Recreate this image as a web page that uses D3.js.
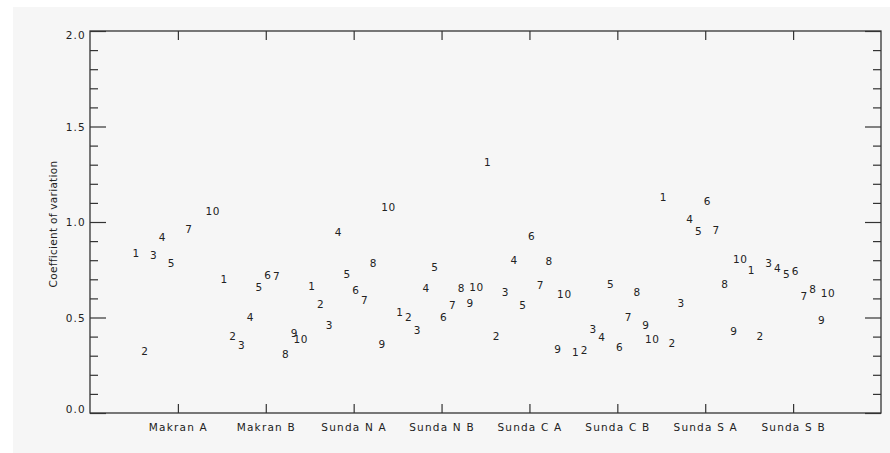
<!DOCTYPE html>
<html>
<head>
<meta charset="utf-8">
<script src="https://cdn.jsdelivr.net/npm/d3@7"></script>
<style>
  html, body { margin: 0; padding: 0; background: #ffffff; }
  svg { display: block; }
  text { font-family: "DejaVu Sans", sans-serif; fill: #222; }
</style>
</head>
<body>
<svg id="chart" width="890" height="453"></svg>
<script>
// ---- data ----
const categories = ["Makran A", "Makran B", "Sunda N A", "Sunda N B", "Sunda C A", "Sunda C B", "Sunda S A", "Sunda S B"];
const labels = ["1", "2", "3", "4", "5", "6", "7", "8", "9", "10"];
const makranA = [0.838, 0.323, 0.825, 0.919, 0.785, null, 0.963, null, null, 1.055];
const makranB = [0.702, 0.402, 0.353, 0.501, 0.658, 0.723, 0.715, 0.306, 0.419, 0.388];
const sundaNA = [0.663, 0.567, 0.459, 0.945, 0.728, 0.642, 0.588, 0.785, 0.358, 1.076];
const sundaNB = [0.527, 0.503, 0.433, 0.651, 0.762, 0.503, 0.562, 0.655, 0.573, 0.659];
const sundaCA = [1.313, 0.402, 0.632, 0.799, 0.564, 0.924, 0.668, 0.797, 0.336, 0.623];
const sundaCB = [0.320, 0.327, 0.440, 0.398, 0.676, 0.344, 0.503, 0.632, 0.458, 0.384];
const sundaSA = [1.128, 0.363, 0.576, 1.012, 0.951, 1.107, 0.959, 0.672, 0.428, 0.803];
const sundaSB = [0.750, 0.402, 0.782, 0.759, 0.729, 0.741, 0.611, 0.646, 0.484, 0.628];
const seriesValues = [makranA, makranB, sundaNA, sundaNB, sundaCA, sundaCB, sundaSA, sundaSB];
const yTickLabels = ["0.0", "0.5", "1.0", "1.5", "2.0"];
const yTicks = [0, 0.5, 1.0, 1.5, 2.0];
const yMinorTicks = d3.range(0, 21).map(d => d / 10).filter(d => !yTicks.some(t => Math.abs(t - d) < 1e-9));

// ---- layout ----
const svg = d3.select("#chart");
const L = 90, R = 881, T = 31, B = 413;

svg.append("rect").attr("x", 13).attr("y", 7).attr("width", 877).attr("height", 446).attr("fill", "#f6f6f6");

const x = d3.scaleLinear().domain([0, categories.length + 1]).range([L, R]);
const y = d3.scaleLinear().domain([0, 2]).range([B, T]);

const axisColor = "#333";

// frame
svg.append("rect").attr("x", L).attr("y", T).attr("width", R - L).attr("height", B - T)
  .attr("fill", "none").attr("stroke", axisColor).attr("stroke-width", 1.3);

const catPos = categories.map((c, i) => i + 1);

// bottom axis
const gB = svg.append("g").attr("transform", `translate(0,${B})`)
  .call(d3.axisBottom(x).tickValues(catPos).tickSizeInner(-9).tickSizeOuter(0)
    .tickFormat((d, i) => categories[i]));
// top axis
const gT = svg.append("g").attr("transform", `translate(0,${T})`)
  .call(d3.axisTop(x).tickValues(catPos).tickSizeInner(-9).tickSizeOuter(0).tickFormat(""));
// left axis major
const gL = svg.append("g").attr("transform", `translate(${L},0)`)
  .call(d3.axisLeft(y).tickValues(yTicks).tickSizeInner(-16).tickSizeOuter(0)
    .tickFormat((d, i) => yTickLabels[i]));
const gLm = svg.append("g").attr("transform", `translate(${L},0)`)
  .call(d3.axisLeft(y).tickValues(yMinorTicks).tickSizeInner(-8).tickSizeOuter(0).tickFormat(""));
// right axis
const gR = svg.append("g").attr("transform", `translate(${R},0)`)
  .call(d3.axisRight(y).tickValues(yTicks).tickSizeInner(-16).tickSizeOuter(0).tickFormat(""));
const gRm = svg.append("g").attr("transform", `translate(${R},0)`)
  .call(d3.axisRight(y).tickValues(yMinorTicks).tickSizeInner(-8).tickSizeOuter(0).tickFormat(""));

[gB, gT, gL, gLm, gR, gRm].forEach(g => {
  g.select(".domain").remove();
  g.selectAll(".tick line").attr("stroke", axisColor).attr("stroke-width", 1.2);
});

gB.selectAll(".tick text")
  .attr("y", 0).attr("dy", 0)
  .attr("transform", "translate(0,17.5)")
  .style("font-size", "10.5px").style("letter-spacing", "1.2px")
  .attr("fill", "#222");

gL.selectAll(".tick text")
  .attr("x", -4).attr("dy", (d, i) => i === 0 ? "-0.02em" : (i === yTicks.length - 1 ? "0.72em" : "0.36em"))
  .style("font-size", "10.5px").style("letter-spacing", "1.2px")
  .attr("fill", "#222");

// y-axis title
svg.append("text")
  .attr("transform", `translate(56.5,${(T + B) / 2 + 2}) rotate(-90)`)
  .attr("text-anchor", "middle")
  .style("font-size", "10.5px").style("letter-spacing", "0.3px")
  .text("Coefficient of variation");

// points as numeric labels
const pts = [];
seriesValues.forEach((vals, ci) => {
  vals.forEach((v, li) => {
    if (v !== null) pts.push({ c: ci + 1, idx: li + 1, v: v, lab: labels[li] });
  });
});

svg.append("g").selectAll("text.pt").data(pts).enter().append("text")
  .attr("class", "pt")
  .attr("x", d => x(d.c + (d.idx - 5.75) * 0.1))
  .attr("y", d => y(d.v))
  .attr("dx", d => d.lab.length > 1 ? -2.4 : 0)
  .attr("dy", "0.36em")
  .attr("text-anchor", "middle")
  .style("font-size", "10.5px").style("letter-spacing", "0.6px")
  .text(d => d.lab);
</script>
</body>
</html>
